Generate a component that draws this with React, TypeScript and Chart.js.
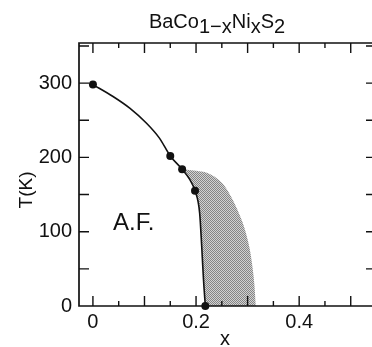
import React, { useEffect, useRef } from "react";
import { Chart, registerables } from "chart.js";

Chart.register(...registerables);

const FONT = "'Liberation Sans', Arial, Helvetica, sans-serif";

// Title pieces (sub = lowered as subscript)
const titleParts = [
  { text: "BaCo", sub: false },
  { text: "1\u2212x", sub: true },
  { text: "Ni", sub: false },
  { text: "x", sub: true },
  { text: "S", sub: false },
  { text: "2", sub: true },
];
const xAxisTitle = "x";
const yAxisTitle = "T(K)";
const regionLabel = "A.F.";
const regionLabelX = 0.079;
const regionLabelT = 111;

// Axis ranges and ticks
const xMin = -0.027;
const xMax = 0.549;
const yMin = 0;
const yMax = 354;
const xTickValues = [0, 0.2, 0.4];
const xTickLabels = ["0", "0.2", "0.4"];
const yTickValues = [0, 100, 200, 300];
const yTickLabels = ["0", "100", "200", "300"];
const xMarkValues = [0, 0.05, 0.1, 0.15, 0.2, 0.25, 0.3, 0.35, 0.4, 0.45, 0.5];
const yMarkValues = [50, 100, 150, 200, 250, 300, 350];

// Measured points (filled circles)
const measuredX = [0, 0.15, 0.173, 0.198, 0.218];
const measuredT = [298, 202, 184, 155, 0];

// Phase boundary curve
const curveX = [0, 0.039, 0.072, 0.104, 0.129, 0.15, 0.173, 0.188, 0.198, 0.207, 0.211, 0.2145, 0.218];
const curveT = [298, 282, 266, 246, 226, 202, 184, 170, 155, 125, 80, 35, 0];

// Right edge of the shaded region
const shadeX = [0.173, 0.2, 0.222, 0.24, 0.255, 0.268, 0.28, 0.29, 0.298, 0.304, 0.309, 0.313, 0.316];
const shadeT = [184, 182, 179, 172, 162, 147, 130, 113, 95, 77, 55, 30, 0];

function makePattern(): CanvasPattern | string {
  const c = document.createElement("canvas");
  c.width = 2;
  c.height = 2;
  const g = c.getContext("2d");
  if (!g) return "#aaa";
  g.fillStyle = "#d2d2d2";
  g.fillRect(0, 0, 2, 2);
  g.fillStyle = "#858585";
  g.fillRect(0, 0, 1, 1);
  g.fillRect(1, 1, 1, 1);
  const p = g.createPattern(c, "repeat");
  return p || "#aaa";
}

const decor = {
  id: "decor",
  afterDatasetsDraw(chart: any) {
    const { ctx, chartArea: a, scales } = chart;
    const xs = scales.x;
    const ys = scales.y;
    ctx.save();
    ctx.strokeStyle = "#111";
    ctx.lineWidth = 1.7;
    ctx.beginPath();
    ctx.moveTo(a.left, a.top);
    ctx.lineTo(a.right, a.top);
    ctx.lineTo(a.right, a.bottom);
    ctx.lineTo(a.left, a.bottom);
    ctx.closePath();
    ctx.stroke();

    ctx.lineWidth = 1.4;
    ctx.beginPath();
    for (const v of xMarkValues) {
      const px = xs.getPixelForValue(v);
      const major = Math.abs(v * 10 - Math.round(v * 10)) < 1e-6;
      const len = major ? 10 : 5;
      ctx.moveTo(px, a.bottom);
      ctx.lineTo(px, a.bottom - len);
      ctx.moveTo(px, a.top);
      ctx.lineTo(px, a.top + len);
    }
    for (const v of yMarkValues) {
      const py = ys.getPixelForValue(v);
      ctx.moveTo(a.left, py);
      ctx.lineTo(a.left + 10, py);
      ctx.moveTo(a.right, py);
      ctx.lineTo(a.right - 10, py);
    }
    ctx.stroke();

    ctx.fillStyle = "#111";
    ctx.font = `24px ${FONT}`;
    ctx.textAlign = "center";
    ctx.textBaseline = "middle";
    ctx.fillText(regionLabel, xs.getPixelForValue(regionLabelX), ys.getPixelForValue(regionLabelT));
    ctx.restore();
  },
  afterDraw(chart: any) {
    const { ctx } = chart;
    ctx.save();
    ctx.fillStyle = "#111";
    ctx.font = `20px ${FONT}`;
    ctx.textBaseline = "alphabetic";
    ctx.textAlign = "left";
    let total = 0;
    for (const p of titleParts) total += ctx.measureText(p.text).width;
    let x = 217 - total / 2;
    for (const p of titleParts) {
      ctx.fillText(p.text, x, p.sub ? 32.5 : 27.5);
      x += ctx.measureText(p.text).width;
    }

    ctx.textAlign = "center";
    ctx.textBaseline = "middle";
    ctx.font = `20px ${FONT}`;
    ctx.fillText(xAxisTitle, 225, 339);

    ctx.translate(26.5, 190);
    ctx.rotate(-Math.PI / 2);
    ctx.font = `19px ${FONT}`;
    ctx.fillText(yAxisTitle, 0, 0);
    ctx.restore();
  },
};

export default function App() {
  const ref = useRef<HTMLCanvasElement | null>(null);

  useEffect(() => {
    const canvas = ref.current;
    if (!canvas) return;
    const pattern = makePattern();
    const chart = new Chart(canvas, {
      type: "scatter",
      data: {
        datasets: [
          {
            label: "measured",
            data: measuredX.map((x, i) => ({ x, y: measuredT[i] })),
            showLine: false,
            pointRadius: 4,
            pointBackgroundColor: "#111",
            pointBorderColor: "#111",
            pointBorderWidth: 0,
            clip: false,
          },
          {
            label: "boundary",
            data: curveX.map((x, i) => ({ x, y: curveT[i] })),
            showLine: true,
            pointRadius: 0,
            borderColor: "#111",
            borderWidth: 1.6,
            cubicInterpolationMode: "monotone",
            fill: "origin",
            backgroundColor: "#ffffff",
          },
          {
            label: "shade",
            data: shadeX.map((x, i) => ({ x, y: shadeT[i] })),
            showLine: true,
            pointRadius: 0,
            borderWidth: 0,
            borderColor: "rgba(0,0,0,0)",
            cubicInterpolationMode: "monotone",
            fill: "origin",
            backgroundColor: pattern as any,
          },
        ],
      },
      options: {
        responsive: false,
        animation: false,
        events: [],
        layout: { padding: { top: 43, right: 3, left: 0, bottom: 0 } },
        plugins: {
          legend: { display: false },
          title: { display: false },
          tooltip: { enabled: false },
        },
        scales: {
          x: {
            type: "linear",
            min: xMin,
            max: xMax,
            afterBuildTicks: (s: any) => {
              s.ticks = xTickValues.map((v) => ({ value: v }));
            },
            afterFit: (s: any) => {
              s.height = 41;
            },
            ticks: {
              color: "#111",
              font: { family: FONT, size: 20 },
              padding: 4,
              maxRotation: 0,
              autoSkip: false,
              callback: (v: any) => {
                const i = xTickValues.findIndex((t) => Math.abs(t - v) < 1e-9);
                return i >= 0 ? xTickLabels[i] : "";
              },
            },
            grid: { display: false, drawTicks: false },
            border: { display: false },
          },
          y: {
            type: "linear",
            min: yMin,
            max: yMax,
            afterBuildTicks: (s: any) => {
              s.ticks = yTickValues.map((v) => ({ value: v }));
            },
            afterFit: (s: any) => {
              s.width = 79;
            },
            ticks: {
              color: "#111",
              font: { family: FONT, size: 20 },
              padding: 7,
              autoSkip: false,
              callback: (v: any) => {
                const i = yTickValues.findIndex((t) => Math.abs(t - v) < 1e-9);
                return i >= 0 ? yTickLabels[i] : "";
              },
            },
            grid: { display: false, drawTicks: false },
            border: { display: false },
          },
        },
      },
      plugins: [decor],
    });
    return () => chart.destroy();
  }, []);

  return (
    <div
      style={{
        position: "absolute",
        left: 0,
        top: 0,
        width: 372,
        height: 347,
        overflow: "hidden",
        background: "#fff",
      }}
    >
      <canvas ref={ref} width={380} height={347} style={{ width: 380, height: 347, display: "block" }} />
    </div>
  );
}
